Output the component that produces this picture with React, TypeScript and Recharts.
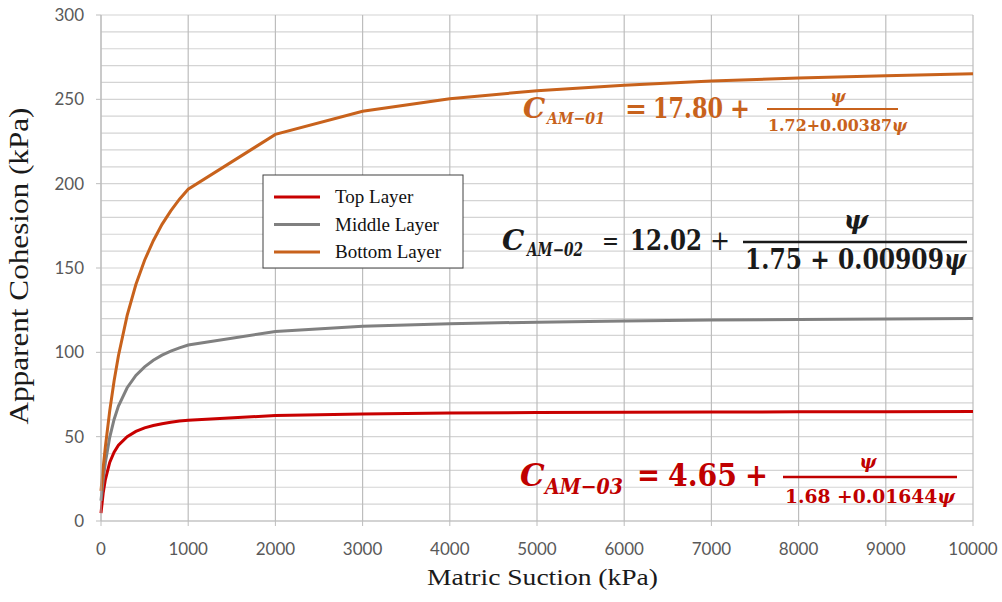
import React from "react";
import {
    LineChart,
    Line,
    XAxis,
    YAxis,
    CartesianGrid,
} from "recharts";

// matric suction (kPa) and apparent cohesion (kPa)
const suction = [
    0, 25, 50, 100, 150, 200, 300, 400, 500, 600, 700, 800, 900, 1000, 2000,
    3000, 4000, 5000, 6000, 7000, 8000, 9000, 10000,
];
const topLayer = [
    4.7, 16.6, 24.6, 34.7, 40.8, 44.9, 50.0, 53.1, 55.2, 56.6, 57.7, 58.6,
    59.3, 59.8, 62.5, 63.5, 64.0, 64.3, 64.5, 64.6, 64.7, 64.8, 64.9,
];
const middleLayer = [
    12.0, 24.7, 34.7, 49.6, 60.2, 68.1, 79.0, 86.3, 91.4, 95.3, 98.3, 100.7,
    102.6, 104.3, 112.4, 115.4, 117.0, 117.9, 118.6, 119.1, 119.5, 119.7,
    120.0,
];
const bottomLayer = [
    17.8, 31.6, 43.9, 65.3, 83.0, 98.0, 121.9, 140.2, 154.6, 166.2, 175.9,
    183.9, 190.8, 196.7, 229.2, 242.9, 250.4, 255.1, 258.4, 260.8, 262.6,
    264.0, 265.2,
];

const xTicks = [0, 1000, 2000, 3000, 4000, 5000, 6000, 7000, 8000, 9000, 10000];
const yTicks = [0, 50, 100, 150, 200, 250, 300];
const yGrid = [
    0, 10, 20, 30, 40, 50, 60, 70, 80, 90, 100, 110, 120, 130, 140, 150, 160,
    170, 180, 190, 200, 210, 220, 230, 240, 250, 260, 270, 280, 290, 300,
];

const legendItems = [
    { name: "Top Layer", color: "#C80000" },
    { name: "Middle Layer", color: "#808080" },
    { name: "Bottom Layer", color: "#C8621C" },
];

const data = suction.map((s, i) => ({
    s,
    top: topLayer[i],
    middle: middleLayer[i],
    bottom: bottomLayer[i],
}));

const W = 1002;
const H = 602;
const mathFont = "'DejaVu Serif', 'Liberation Serif', serif";
const tickStyle = { fontFamily: "Lato, sans-serif", fontSize: 17, fill: "#595959" };

const Overlay: React.FC = () => (
    <svg
        width={W}
        height={H}
        style={{ position: "absolute", left: 0, top: 0, pointerEvents: "none" }}
    >
        {/* axis titles */}
        <text
            x={28}
            y={266}
            transform="rotate(-90, 28, 266)"
            textAnchor="middle"
            fontFamily="'Liberation Serif', serif"
            fontSize={28}
            fill="#1a1a1a"
            textLength={317}
            lengthAdjust="spacingAndGlyphs"
        >
            Apparent Cohesion (kPa)
        </text>
        <text
            x={427}
            y={585}
            fontFamily="'Liberation Serif', serif"
            fontSize={23}
            fill="#1a1a1a"
            textLength={231}
            lengthAdjust="spacingAndGlyphs"
        >
            Matric Suction (kPa)
        </text>

        {/* legend */}
        <rect x={263} y={175} width={200} height={93} fill="#fff" stroke="#404040" strokeWidth={1} />
        {legendItems.map((it, i) => {
            const y = 197 + i * 27.5;
            return (
                <g key={it.name}>
                    <line x1={274} x2={320} y1={y} y2={y} stroke={it.color} strokeWidth={3} />
                    <text
                        x={335}
                        y={y + 6}
                        fontFamily="'Liberation Serif', serif"
                        fontSize={19}
                        fill="#111"
                    >
                        {it.name}
                    </text>
                </g>
            );
        })}

        {/* bottom layer equation */}
        <g fill="#C8621C" fontFamily={mathFont} fontWeight="bold">
            <text x={523} y={118} fontSize={28} fontStyle="italic">C</text>
            <text x={547} y={124} fontSize={17} fontStyle="italic" textLength={58} lengthAdjust="spacingAndGlyphs">AM−01</text>
            <text x={625} y={118} fontSize={28} textLength={22} lengthAdjust="spacingAndGlyphs">=</text>
            <text x={653} y={118} fontSize={28} textLength={70} lengthAdjust="spacingAndGlyphs">17.80</text>
            <text x={730} y={118} fontSize={28} textLength={20} lengthAdjust="spacingAndGlyphs">+</text>
            <line x1={767} x2={898} y1={109} y2={109} stroke="#C8621C" strokeWidth={2} />
            <text x={838} y={102} fontSize={16} fontStyle="italic" textAnchor="middle">ψ</text>
            <text x={768} y={131} fontSize={16} textLength={139} lengthAdjust="spacingAndGlyphs">
                1.72+0.00387<tspan fontStyle="italic">ψ</tspan>
            </text>
        </g>

        {/* middle layer equation */}
        <g fill="#1a1a1a" fontFamily={mathFont} fontWeight="bold">
            <text x={502} y={250} fontSize={28} fontStyle="italic">C</text>
            <text x={527} y={256} fontSize={18} fontStyle="italic" textLength={56} lengthAdjust="spacingAndGlyphs">AM−02</text>
            <text x={602} y={250} fontSize={26} fontWeight="normal" textLength={17} lengthAdjust="spacingAndGlyphs">=</text>
            <text x={630} y={250} fontSize={28} textLength={72} lengthAdjust="spacingAndGlyphs">12.02</text>
            <text x={710} y={250} fontSize={28} fontWeight="normal" textLength={20} lengthAdjust="spacingAndGlyphs">+</text>
            <line x1={743} x2={967} y1={242} y2={242} stroke="#1a1a1a" strokeWidth={2.5} />
            <text x={856} y={229} fontSize={26} fontStyle="italic" textAnchor="middle">ψ</text>
            <text x={745} y={269} fontSize={27} textLength={221} lengthAdjust="spacingAndGlyphs">
                1.75 + 0.00909<tspan fontStyle="italic">ψ</tspan>
            </text>
        </g>

        {/* top layer equation */}
        <g fill="#C00000" fontFamily={mathFont} fontWeight="bold">
            <text x={520} y={486} fontSize={31} fontStyle="italic">C</text>
            <text x={545} y={494} fontSize={22} fontStyle="italic" textLength={78} lengthAdjust="spacingAndGlyphs">AM−03</text>
            <text x={637} y={486} fontSize={32} textLength={23} lengthAdjust="spacingAndGlyphs">=</text>
            <text x={668} y={486} fontSize={32} textLength={69} lengthAdjust="spacingAndGlyphs">4.65</text>
            <text x={745} y={486} fontSize={32} textLength={23} lengthAdjust="spacingAndGlyphs">+</text>
            <line x1={783} x2={957} y1={477} y2={477} stroke="#C00000" strokeWidth={2.5} />
            <text x={868} y={468} fontSize={18} fontStyle="italic" textAnchor="middle">ψ</text>
            <text x={785} y={503} fontSize={18} textLength={170} lengthAdjust="spacingAndGlyphs">
                1.68 +0.01644<tspan fontStyle="italic">ψ</tspan>
            </text>
        </g>
    </svg>
);

export default function App() {
    return (
        <div
            style={{
                position: "absolute",
                left: 0,
                top: 0,
                width: W,
                height: H,
                background: "#fff",
            }}
        >
            <LineChart
                width={W}
                height={H}
                data={data}
                margin={{ top: 15, right: 29, left: 0, bottom: 0 }}
            >
                <CartesianGrid
                    vertical={false}
                    horizontalValues={yGrid}
                    stroke="#d4d4d4"
                    strokeWidth={1.2}
                />
                <CartesianGrid horizontal={false} stroke="#bdbdbd" strokeWidth={1.2} />
                <XAxis
                    dataKey="s"
                    type="number"
                    domain={[0, 10000]}
                    ticks={xTicks}
                    interval={0}
                    height={81}
                    tickSize={5}
                    tickMargin={17}
                    axisLine={{ stroke: "#bdbdbd" }}
                    tickLine={{ stroke: "#bdbdbd" }}
                    tick={tickStyle}
                />
                <YAxis
                    type="number"
                    domain={[0, 300]}
                    ticks={yTicks}
                    interval={0}
                    width={101}
                    tickSize={5}
                    tickMargin={12}
                    axisLine={{ stroke: "#bdbdbd" }}
                    tickLine={{ stroke: "#bdbdbd" }}
                    tick={tickStyle}
                />
                <Line
                    type="linear"
                    dataKey="top"
                    stroke="#C80000"
                    strokeWidth={3}
                    dot={false}
                    isAnimationActive={false}
                />
                <Line
                    type="linear"
                    dataKey="middle"
                    stroke="#808080"
                    strokeWidth={3}
                    dot={false}
                    isAnimationActive={false}
                />
                <Line
                    type="linear"
                    dataKey="bottom"
                    stroke="#C8621C"
                    strokeWidth={3}
                    dot={false}
                    isAnimationActive={false}
                />
            </LineChart>
            <Overlay />
        </div>
    );
}
